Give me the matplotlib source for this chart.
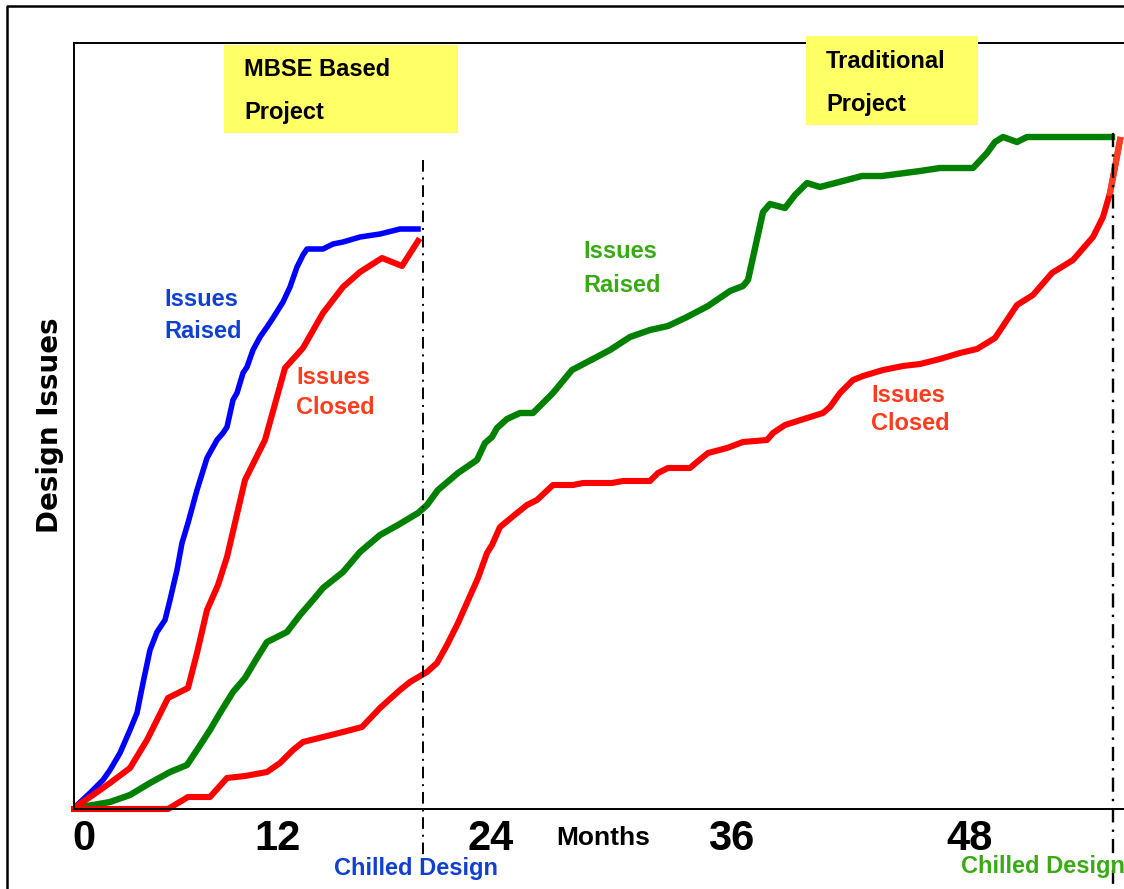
import matplotlib
matplotlib.use("Agg")
import matplotlib.pyplot as plt
from matplotlib.patches import Rectangle
from matplotlib.lines import Line2D

# ---- data (months, design issues in arbitrary units) ----
mbse_raised_x = [0, 0.8, 1.45, 1.8, 2.3, 2.8, 3.15, 3.45, 3.8, 4.15, 4.55, 4.8, 5.15, 5.4, 5.7,
                 6.15, 6.65, 7.15, 7.45, 7.65, 7.95, 8.15, 8.45, 8.65, 8.95, 9.3, 9.65, 9.95,
                 10.45, 10.8, 11.15, 11.45, 11.65, 12.45, 12.95, 13.45, 14.3, 15.3, 16.3, 17.2]
mbse_raised_y = [0.1, 1.6, 2.9, 3.9, 5.6, 7.9, 9.6, 12.6, 15.9, 17.7, 18.9, 20.9, 23.9, 26.6, 28.6,
                 31.9, 35.1, 36.9, 37.6, 38.2, 40.9, 41.6, 43.6, 44.2, 45.9, 47.2, 48.2, 49.1,
                 50.7, 52.2, 54.2, 55.4, 56.0, 56.0, 56.5, 56.7, 57.2, 57.5, 58.0, 58.0]

mbse_closed_x = [0, 0.95, 1.8, 2.8, 3.65, 4.7, 5.7, 6.15, 6.65, 7.2, 7.65, 8.55, 9.55, 10.55,
                 11.45, 12.45, 13.45, 14.3, 15.4, 16.4, 17.2]
mbse_closed_y = [0.1, 1.4, 2.6, 4.1, 6.9, 11.1, 12.1, 15.6, 19.9, 22.4, 25.2, 32.9, 36.9, 44.1,
                 46.1, 49.6, 52.2, 53.7, 55.1, 54.3, 56.8]

trad_raised_x = [0, 0.95, 1.8, 2.8, 3.8, 4.8, 5.65, 6.15, 6.8, 7.3, 7.95, 8.55, 9.15, 9.65, 10.15,
                 10.65, 11.3, 11.95, 12.45, 13.45, 14.3, 15.3, 16.2, 17.2, 17.65, 18.2, 19.2,
                 20.15, 20.55, 20.9, 21.15, 21.65, 22.3, 22.95, 23.95, 24.9, 25.95, 26.8, 27.8,
                 28.8, 29.7, 30.65, 31.7, 32.8, 33.45, 33.7, 34.45, 34.8, 35.55, 36.05, 36.65,
                 37.3, 38.45, 39.4, 40.4, 42.3, 43.3, 44.95, 45.65, 46.05, 46.45, 47.15, 47.65, 51.9]
trad_raised_y = [0.1, 0.4, 0.7, 1.4, 2.6, 3.7, 4.4, 5.9, 7.9, 9.6, 11.7, 13.1, 15.1, 16.7, 17.2,
                 17.7, 19.4, 20.9, 22.1, 23.7, 25.7, 27.4, 28.4, 29.6, 30.4, 31.9, 33.6,
                 34.9, 36.6, 37.2, 38.1, 39.0, 39.6, 39.6, 41.6, 43.9, 45.0, 45.9, 47.2,
                 47.9, 48.3, 49.2, 50.3, 51.8, 52.3, 52.9, 59.7, 60.5, 60.1, 61.4, 62.6,
                 62.2, 62.8, 63.3, 63.3, 63.8, 64.1, 64.1, 65.6, 66.7, 67.2, 66.7, 67.2, 67.2]

trad_closed_x = [0, 4.7, 5.7, 6.8, 7.65, 8.55, 9.65, 10.3, 10.95, 11.45, 12.45, 13.45, 14.4, 15.3,
                 16.3, 16.8, 17.65, 18.15, 18.65, 19.2, 20.2, 20.65, 20.9, 21.3, 22.15, 22.65,
                 23.15, 23.95, 24.95, 25.45, 26.9, 27.45, 28.8, 29.2, 29.7, 30.8, 31.15, 31.7,
                 32.65, 33.45, 34.65, 34.95, 35.55, 36.65, 37.45, 37.8, 38.3, 38.95, 39.45,
                 40.45, 41.45, 42.3, 43.3, 44.3, 45.15, 46.05, 47.15, 47.95, 48.9, 49.95,
                 50.95, 51.45, 51.8, 52.05, 52.3]
trad_closed_y = [0, 0, 1.2, 1.2, 3.1, 3.3, 3.7, 4.6, 5.9, 6.7, 7.2, 7.7, 8.2, 10.1,
                 11.9, 12.7, 13.7, 14.6, 16.4, 18.6, 23.1, 25.6, 26.4, 28.2, 29.6, 30.4,
                 30.9, 32.4, 32.4, 32.6, 32.6, 32.8, 32.8, 33.6, 34.1, 34.1, 34.7, 35.6,
                 36.1, 36.7, 36.9, 37.6, 38.4, 39.1, 39.6, 40.2, 41.6, 42.9, 43.3,
                 43.9, 44.3, 44.5, 45.0, 45.6, 46.0, 47.1, 50.4, 51.4, 53.6, 54.9,
                 57.2, 59.2, 61.6, 64.2, 66.9]

tick_pos = [0.5, 10.15, 20.85, 32.85, 44.8]
tick_labels = ["0", "12", "24", "36", "48"]
chilled_mbse = 17.45
chilled_trad = 51.95

W, H = 1124, 889
fig = plt.figure(figsize=(W / 100, H / 100), dpi=100)
ax = fig.add_axes([74 / W, 1 - 809 / H, 1 - 74 / W, (809 - 43) / H])
ax.set_xlim(0, 52.5)
ax.set_ylim(0, 76.6)

for s in ["left", "top", "bottom"]:
    ax.spines[s].set_linewidth(1.4)
ax.spines["right"].set_visible(False)
ax.set_yticks([])

ax.set_xticks(tick_pos)
ax.set_xticklabels(tick_labels, fontsize=30, fontweight="bold", family="Liberation Sans")
ax.tick_params(axis="x", length=0, pad=7)

ax.plot(mbse_raised_x, mbse_raised_y, color="#0000ff", lw=4.0, solid_joinstyle="round")
ax.plot(trad_raised_x, trad_raised_y, color="#008000", lw=4.6, solid_joinstyle="round")
ax.plot(mbse_closed_x, mbse_closed_y, color="#ff0000", lw=4.4, solid_joinstyle="round")
ax.plot(trad_closed_x, trad_closed_y, color="#ff0000", lw=4.4, solid_joinstyle="round",
        clip_on=False)
ax.plot(trad_closed_x[-3:], trad_closed_y[-3:], color="#ff3d1f", lw=4.4, clip_on=False)

dash = (0, (6, 3, 1, 3))
ax.plot([chilled_mbse, chilled_mbse], [64.9, -4.7], color="black", lw=1.4,
        linestyle=dash, clip_on=False)
ax.plot([chilled_trad, chilled_trad], [67.6, -8.0], color="black", lw=1.7,
        linestyle=dash, clip_on=False)

# yellow boxes
box_col = "#ffff66"
ax.add_patch(Rectangle((7.5, 67.6), 11.7, 8.8, facecolor=box_col, edgecolor="none",
                       zorder=3, clip_on=False))
ax.add_patch(Rectangle((36.6, 68.4), 8.6, 8.9, facecolor=box_col, edgecolor="none",
                       zorder=3, clip_on=False))

lab = dict(fontsize=17, fontweight="bold", family="Liberation Sans", va="center",
           ha="left", zorder=4, clip_on=False)
ax.text(8.5, 73.9, "MBSE Based", color="black", **lab)
ax.text(8.5, 69.6, "Project", color="black", **lab)
ax.text(37.6, 74.7, "Traditional", color="black", **lab)
ax.text(37.6, 70.4, "Project", color="black", **lab)

blue_t = "#1040d0"
red_t = "#ff3c1e"
green_t = "#3aaa14"
ax.text(4.5, 51.0, "Issues", color=blue_t, **lab)
ax.text(4.5, 47.8, "Raised", color=blue_t, **lab)
ax.text(11.1, 43.2, "Issues", color=red_t, **lab)
ax.text(11.1, 40.1, "Closed", color=red_t, **lab)
ax.text(25.45, 55.7, "Issues", color=green_t, **lab)
ax.text(25.45, 52.4, "Raised", color=green_t, **lab)
ax.text(39.85, 41.3, "Issues", color=red_t, **lab)
ax.text(39.85, 38.5, "Closed", color=red_t, **lab)

ax.text(17.1, -6.0, "Chilled Design", color=blue_t,
        **{**lab, "ha": "center"})
ax.text(44.35, -5.8, "Chilled Design", color=green_t, **lab)

ax.text(26.45, -2.9, "Months", fontsize=19, fontweight="bold", family="Liberation Sans",
        ha="center", va="center", clip_on=False)

fig.text(50 / W, 1 - 425 / H, "Design Issues", rotation=90, fontsize=20,
         fontweight="bold", family="DejaVu Sans", ha="center", va="center")

# outer frame
fig.add_artist(Line2D([7 / W, 7 / W, 1.0], [0.0, 1 - 6 / H, 1 - 6 / H],
                      color="black", lw=1.8, transform=fig.transFigure))

fig.savefig("out.png", dpi=100)
